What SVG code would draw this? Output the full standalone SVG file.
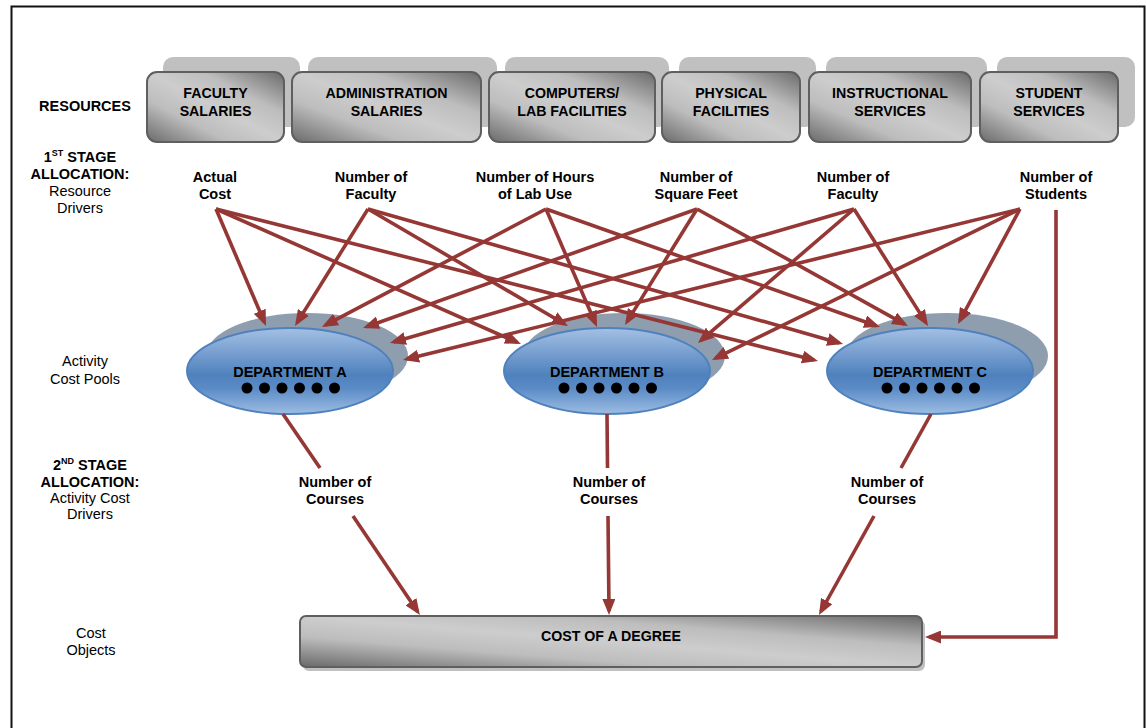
<svg xmlns="http://www.w3.org/2000/svg" width="1146" height="728" viewBox="0 0 1146 728">
  <defs>
    <style>
      text { font-family: "Liberation Sans", Arial, sans-serif; fill: #000; }
      .b { font-weight: bold; font-size: 14.5px; text-anchor: middle; }
      .r { font-size: 14.5px; text-anchor: middle; }
      .bx { font-weight: bold; font-size: 14.2px; text-anchor: middle; }
      .shadow { fill: #c0c0c0; }
      .box { fill: url(#grey); stroke: #5f5f5f; stroke-width: 2; }
      .eshadow { fill: #8e9eaf; }
      .pool { fill: url(#blue); stroke: #4f81bd; stroke-width: 2; }
      .dot { fill: #000; }
      .arr { stroke: #953735; stroke-width: 3.6; fill: none; }
      .arrh { stroke: #953735; stroke-width: 3.6; fill: none; marker-end: url(#ah); }
    </style>
    <linearGradient id="grey" x1="0" y1="1" x2="1" y2="0">
      <stop offset="0" stop-color="#6a6a6a"/>
      <stop offset="0.3" stop-color="#bdbdbd"/>
      <stop offset="0.5" stop-color="#cdcdcd"/>
      <stop offset="0.7" stop-color="#bdbdbd"/>
      <stop offset="1" stop-color="#6a6a6a"/>
    </linearGradient>
    <linearGradient id="blue" x1="0" y1="0" x2="0" y2="1">
      <stop offset="0" stop-color="#a4c0e4"/>
      <stop offset="0.55" stop-color="#4f81bd"/>
      <stop offset="0.7" stop-color="#5a8bc6"/>
      <stop offset="1" stop-color="#9dbde3"/>
    </linearGradient>
    <marker id="ah" markerUnits="userSpaceOnUse" markerWidth="16" markerHeight="13" viewBox="0 0 16 13" refX="12" refY="6.5" orient="auto">
      <path d="M0,0 L16,6.5 L0,13 z" fill="#953735"/>
    </marker>
  </defs>

  <rect x="0" y="0" width="1146" height="728" fill="#fff"/>
  <!-- frame -->
  <rect x="11.5" y="6.5" width="1133" height="740" fill="none" stroke="#111" stroke-width="2"/>

  <!-- row labels -->
  <g id="row-labels">
    <text class="b" x="85" y="111">RESOURCES</text>
    <text class="b" x="80" y="162">1<tspan font-size="9" dy="-6">ST</tspan><tspan dy="6"> STAGE</tspan></text>
    <text class="b" x="80" y="179">ALLOCATION:</text>
    <text class="r" x="80" y="196">Resource</text>
    <text class="r" x="80" y="213">Drivers</text>
    <text class="r" x="85" y="366">Activity</text>
    <text class="r" x="85" y="384">Cost Pools</text>
    <text class="b" x="90" y="470">2<tspan font-size="9" dy="-6">ND</tspan><tspan dy="6"> STAGE</tspan></text>
    <text class="b" x="90" y="487">ALLOCATION:</text>
    <text class="r" x="90" y="503">Activity Cost</text>
    <text class="r" x="90" y="519">Drivers</text>
    <text class="r" x="91" y="638">Cost</text>
    <text class="r" x="91" y="655">Objects</text>
  </g>

  <!-- resources -->
  <g id="res-faculty">
    <rect class="shadow" x="163" y="57" width="137" height="70" rx="10"/>
    <rect class="box" x="147" y="72" width="137" height="70" rx="10"/>
    <text class="bx" x="215.5" y="98">FACULTY</text>
    <text class="bx" x="215.5" y="116">SALARIES</text>
  </g>
  <g id="res-admin">
    <rect class="shadow" x="308" y="57" width="189" height="70" rx="10"/>
    <rect class="box" x="292" y="72" width="189" height="70" rx="10"/>
    <text class="bx" x="386.5" y="98">ADMINISTRATION</text>
    <text class="bx" x="386.5" y="116">SALARIES</text>
  </g>
  <g id="res-computers">
    <rect class="shadow" x="505" y="57" width="164" height="70" rx="10"/>
    <rect class="box" x="489" y="72" width="166" height="70" rx="10"/>
    <text class="bx" x="572" y="98">COMPUTERS/</text>
    <text class="bx" x="572" y="116">LAB FACILITIES</text>
  </g>
  <g id="res-physical">
    <rect class="shadow" x="679" y="57" width="137" height="70" rx="10"/>
    <rect class="box" x="662" y="72" width="138" height="70" rx="10"/>
    <text class="bx" x="731" y="98">PHYSICAL</text>
    <text class="bx" x="731" y="116">FACILITIES</text>
  </g>
  <g id="res-instructional">
    <rect class="shadow" x="826" y="57" width="161" height="70" rx="10"/>
    <rect class="box" x="809" y="72" width="162" height="70" rx="10"/>
    <text class="bx" x="890" y="98">INSTRUCTIONAL</text>
    <text class="bx" x="890" y="116">SERVICES</text>
  </g>
  <g id="res-student">
    <rect class="shadow" x="997" y="57" width="138" height="70" rx="10"/>
    <rect class="box" x="980" y="72" width="138" height="70" rx="10"/>
    <text class="bx" x="1049" y="98">STUDENT</text>
    <text class="bx" x="1049" y="116">SERVICES</text>
  </g>

  <!-- resource drivers -->
  <g id="drv-actual"><text class="b" x="215" y="182">Actual</text><text class="b" x="215" y="199">Cost</text></g>
  <g id="drv-faculty"><text class="b" x="371" y="182">Number of</text><text class="b" x="371" y="199">Faculty</text></g>
  <g id="drv-lab"><text class="b" x="535" y="182">Number of Hours</text><text class="b" x="535" y="199">of Lab Use</text></g>
  <g id="drv-sqft"><text class="b" x="696" y="182">Number of</text><text class="b" x="696" y="199">Square Feet</text></g>
  <g id="drv-faculty2"><text class="b" x="853" y="182">Number of</text><text class="b" x="853" y="199">Faculty</text></g>
  <g id="drv-students"><text class="b" x="1056" y="182">Number of</text><text class="b" x="1056" y="199">Students</text></g>

  <!-- activity cost pools -->
  <g id="dept-a">
    <ellipse class="eshadow" cx="307" cy="356" rx="101" ry="43"/>
    <ellipse class="pool" cx="290" cy="371" rx="103" ry="43"/>
    <text class="b" x="290" y="377">DEPARTMENT A</text>
    <g class="dot">
      <circle cx="247" cy="388" r="5.5"/><circle cx="264.5" cy="388" r="5.5"/><circle cx="282" cy="388" r="5.5"/>
      <circle cx="299.5" cy="388" r="5.5"/><circle cx="317" cy="388" r="5.5"/><circle cx="334.5" cy="388" r="5.5"/>
    </g>
  </g>
  <g id="dept-b">
    <ellipse class="eshadow" cx="624" cy="356" rx="101" ry="43"/>
    <ellipse class="pool" cx="607" cy="371" rx="103" ry="43"/>
    <text class="b" x="607" y="377">DEPARTMENT B</text>
    <g class="dot">
      <circle cx="564" cy="388" r="5.5"/><circle cx="581.5" cy="388" r="5.5"/><circle cx="599" cy="388" r="5.5"/>
      <circle cx="616.5" cy="388" r="5.5"/><circle cx="634" cy="388" r="5.5"/><circle cx="651.5" cy="388" r="5.5"/>
    </g>
  </g>
  <g id="dept-c">
    <ellipse class="eshadow" cx="947" cy="356" rx="101" ry="43"/>
    <ellipse class="pool" cx="930" cy="371" rx="103" ry="43"/>
    <text class="b" x="930" y="377">DEPARTMENT C</text>
    <g class="dot">
      <circle cx="887" cy="388" r="5.5"/><circle cx="904.5" cy="388" r="5.5"/><circle cx="922" cy="388" r="5.5"/>
      <circle cx="939.5" cy="388" r="5.5"/><circle cx="957" cy="388" r="5.5"/><circle cx="974.5" cy="388" r="5.5"/>
    </g>
  </g>

  <!-- activity cost drivers -->
  <g id="courses-a"><text class="b" x="335" y="487">Number of</text><text class="b" x="335" y="504">Courses</text></g>
  <g id="courses-b"><text class="b" x="609" y="487">Number of</text><text class="b" x="609" y="504">Courses</text></g>
  <g id="courses-c"><text class="b" x="887" y="487">Number of</text><text class="b" x="887" y="504">Courses</text></g>

  <!-- cost object -->
  <g id="cost-of-degree">
    <rect class="shadow" x="303" y="620" width="622" height="51" rx="6"/>
    <rect class="box" x="300" y="616" width="622" height="51" rx="6"/>
    <text class="bx" x="611" y="641">COST OF A DEGREE</text>
  </g>

  <!-- connectors -->
  <g id="connectors">
    <!-- first stage: resource drivers to departments -->
    <line class="arrh" x1="216" y1="209" x2="264.4" y2="322.3"/>
    <line class="arrh" x1="216" y1="209" x2="517.3" y2="342.4"/>
    <line class="arrh" x1="216" y1="209" x2="814.1" y2="360"/>
    <line class="arrh" x1="368" y1="209" x2="297.1" y2="322.6"/>
    <line class="arrh" x1="368" y1="209" x2="564.5" y2="324"/>
    <line class="arrh" x1="368" y1="209" x2="839.2" y2="342.9"/>
    <line class="arrh" x1="546" y1="209" x2="325.5" y2="325.1"/>
    <line class="arrh" x1="546" y1="209" x2="595.4" y2="323.3"/>
    <line class="arrh" x1="546" y1="209" x2="876.2" y2="325.7"/>
    <line class="arrh" x1="697" y1="209" x2="366.8" y2="326.7"/>
    <line class="arrh" x1="697" y1="209" x2="627.1" y2="321.6"/>
    <line class="arrh" x1="697" y1="209" x2="904.5" y2="324.1"/>
    <line class="arrh" x1="854" y1="209" x2="393.8" y2="341.9"/>
    <line class="arrh" x1="854" y1="209" x2="701" y2="340.4"/>
    <line class="arrh" x1="854" y1="209" x2="925.9" y2="322.6"/>
    <line class="arrh" x1="1020" y1="209" x2="406.9" y2="359"/>
    <line class="arrh" x1="1020" y1="209" x2="715.6" y2="358.2"/>
    <line class="arrh" x1="1020" y1="209" x2="959.9" y2="320.5"/>
    <!-- student services straight to the cost object -->
    <path class="arrh" d="M1056,210 V637 H929"/>
    <!-- second stage: departments to cost object -->
    <line class="arr" x1="283" y1="414" x2="320" y2="468"/>
    <line class="arrh" x1="353" y1="516" x2="417.7" y2="611.7"/>
    <line class="arr" x1="607" y1="414" x2="607.5" y2="468"/>
    <line class="arrh" x1="608" y1="516" x2="609" y2="611"/>
    <line class="arr" x1="931" y1="414" x2="901" y2="468"/>
    <line class="arrh" x1="874" y1="516" x2="820.9" y2="611.5"/>
  </g>
</svg>
